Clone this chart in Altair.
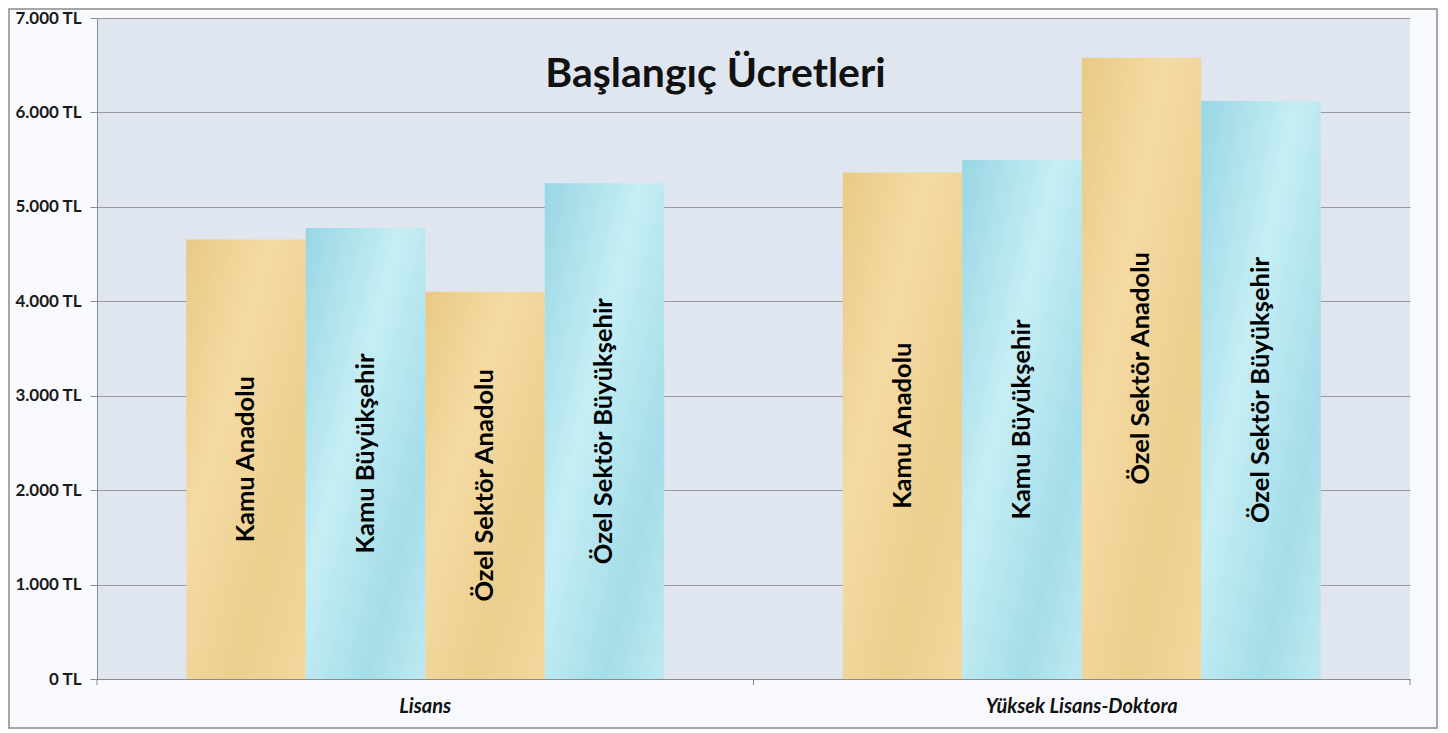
import altair as alt
import pandas as pd

groups = ["Lisans", "Yüksek Lisans-Doktora"]
series = ["Kamu Anadolu", "Kamu Büyükşehir", "Özel Sektör Anadolu", "Özel Sektör Büyükşehir"]
lisans_values = [4655, 4775, 4100, 5250]
yl_values = [5365, 5495, 6580, 6120]
texture = ["papirus", "su", "papirus", "su"]
y_ticks = [0, 1000, 2000, 3000, 4000, 5000, 6000, 7000]
title_text = "Başlangıç Ücretleri"

rows = []
for g, vals in zip(groups, [lisans_values, yl_values]):
    for s, v, t in zip(series, vals, texture):
        rows.append({"grup": g, "seri": s, "ucret": v, "doku": t, "orta": v / 2})
df = pd.DataFrame(rows)

W, H = 1313, 661
FONT = "Lato"

x_enc = alt.X("grup:N", sort=groups,
              scale=alt.Scale(paddingInner=0, paddingOuter=0),
              axis=alt.Axis(title=None, labelAngle=0, ticks=False, domain=True,
                            domainColor="#8c8c8c", labelFont=FONT, labelFontSize=20,
                            labelFontWeight="bold", labelFontStyle="italic",
                            labelColor="#111111", labelPadding=17, labelLimit=0))
xo_enc = alt.XOffset("seri:N", sort=series,
                     scale=alt.Scale(paddingInner=0, paddingOuter=0.747))
y_scale = alt.Scale(domain=[0, 7000], nice=False)

base = alt.Chart(df)

tan = alt.Gradient(gradient="linear", x1=0, x2=1, y1=0, y2=1, stops=[
    alt.GradientStop(color="#e9c985", offset=0),
    alt.GradientStop(color="#f4dba4", offset=0.35),
    alt.GradientStop(color="#ecce8e", offset=0.7),
    alt.GradientStop(color="#f2d89e", offset=1)])
blue = alt.Gradient(gradient="linear", x1=0, x2=1, y1=0, y2=1, stops=[
    alt.GradientStop(color="#98d6e4", offset=0),
    alt.GradientStop(color="#c6eef4", offset=0.4),
    alt.GradientStop(color="#a4dde9", offset=0.75),
    alt.GradientStop(color="#bfe9f1", offset=1)])

y_axis = alt.Axis(title=None, values=y_ticks,
                  labelExpr="replace(format(datum.value, ',d'), ',', '.') + ' TL'",
                  labelFont=FONT, labelFontSize=17, labelFontWeight="bold",
                  labelColor="#1a1a1a", tickSize=7, tickColor="#8c8c8c",
                  domainColor="#8c8c8c", grid=True, gridColor="#9a9a9a",
                  gridWidth=1, labelPadding=9)

grid = base.mark_bar(opacity=0).encode(
    x=x_enc, xOffset=xo_enc,
    y=alt.Y("ucret:Q", scale=y_scale, axis=y_axis))

bars_tan = base.transform_filter(alt.datum.doku == "papirus").mark_bar(
    color=tan, cornerRadius=0).encode(
    x=x_enc, xOffset=xo_enc, y=alt.Y("ucret:Q", scale=y_scale))
bars_blue = base.transform_filter(alt.datum.doku == "su").mark_bar(
    color=blue, cornerRadius=0).encode(
    x=x_enc, xOffset=xo_enc, y=alt.Y("ucret:Q", scale=y_scale))

labels = base.mark_text(angle=270, font=FONT, fontSize=25.5, fontWeight="bold",
                        color="#000000", align="center", baseline="middle").encode(
    x=x_enc, xOffset=xo_enc, y=alt.Y("orta:Q", scale=y_scale), text="seri:N")

ticks = base.transform_filter(alt.datum.seri == series[0]).mark_rule(
    color="#8c8c8c").encode(
    x=alt.X("grup:N", sort=groups, bandPosition=0), y=alt.value(H), y2=alt.value(H + 6))
tick_end = base.transform_filter(
    (alt.datum.seri == series[0]) & (alt.datum.grup == groups[0])).mark_rule(
    color="#8c8c8c").encode(x=alt.value(W), y=alt.value(H), y2=alt.value(H + 6))

frame = base.transform_filter(
    (alt.datum.seri == series[0]) & (alt.datum.grup == groups[0])).mark_rect(
    fill=None, stroke="#8a8a8a", strokeWidth=1.5, clip=False).encode(
    x=alt.value(-88), x2=alt.value(W + 27), y=alt.value(-9), y2=alt.value(H + 49))

chart = alt.layer(grid, bars_tan, bars_blue, labels, ticks, tick_end, frame).properties(
    width=W, height=H,
    title=alt.TitleParams(title_text, font=FONT, fontSize=41, fontWeight="bold",
                          color="#111111", anchor="middle", dx=-38, dy=92),
    autosize=alt.AutoSizeParams(type="none"),
    padding={"left": 89, "top": 10, "right": 30, "bottom": 52},
).configure(background="#f7f9fc").configure_view(fill="#dfe6f0", stroke=None)

chart.save("out.html", embed_options={"renderer": "svg", "actions": False})
